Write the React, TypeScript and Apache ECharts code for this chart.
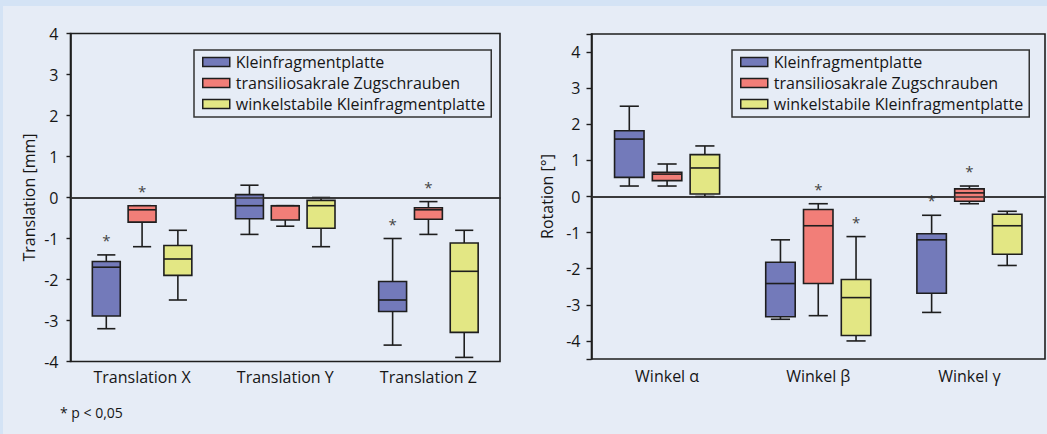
import React, { useEffect, useRef } from "react";
import * as echarts from "echarts";

const transCategories = ["Translation X", "Translation Y", "Translation Z"];
const rotCategories = ["Winkel α", "Winkel β", "Winkel γ"];
const groupNames = [
  "Kleinfragmentplatte",
  "transiliosakrale Zugschrauben",
  "winkelstabile Kleinfragmentplatte",
];
const groupColors = ["#737aba", "#f27e78", "#e3e784"];

// [min, q1, median, q3, max] per category
const transKFP = [
  [-3.2, -2.89, -1.7, -1.56, -1.4],
  [-0.9, -0.52, -0.2, 0.07, 0.3],
  [-3.6, -2.78, -2.5, -2.05, -1.0],
];
const transTZS = [
  [-1.2, -0.6, -0.3, -0.2, -0.2],
  [-0.7, -0.55, -0.2, -0.2, -0.2],
  [-0.9, -0.53, -0.3, -0.25, -0.1],
];
const transWKP = [
  [-2.5, -1.9, -1.5, -1.17, -0.8],
  [-1.2, -0.75, -0.2, -0.07, 0.0],
  [-3.9, -3.29, -1.8, -1.11, -0.8],
];
const rotKFP = [
  [0.29, 0.53, 1.59, 1.82, 2.5],
  [-3.4, -3.33, -2.41, -1.82, -1.2],
  [-3.21, -2.68, -1.2, -1.03, -0.52],
];
const rotTZS = [
  [0.29, 0.44, 0.62, 0.67, 0.9],
  [-3.3, -2.41, -0.81, -0.36, -0.2],
  [-0.2, -0.13, 0.1, 0.21, 0.29],
];
const rotWKP = [
  [0.0, 0.07, 0.79, 1.16, 1.4],
  [-4.0, -3.85, -2.8, -2.3, -1.11],
  [-1.91, -1.6, -0.81, -0.49, -0.41],
];
// significance markers (p < 0.05)
const transSigKFP = [1, 0, 1];
const transSigTZS = [1, 0, 1];
const transSigWKP = [0, 0, 0];
const rotSigKFP = [0, 0, 1];
const rotSigTZS = [0, 1, 1];
const rotSigWKP = [0, 1, 0];

const transTicks = [-4, -3, -2, -1, 0, 1, 2, 3, 4];
const rotTicks = [-4, -3, -2, -1, 0, 1, 2, 3, 4];

const FONT = "Open Sans";
const LINE = "#1e1e1e";
const TEXT = "#161616";

function buildData(stats: number[][], sig: number[]) {
  return stats.map((s, i) => [i, ...s, sig[i]]);
}

function makeRender(slot: number, color: string) {
  return (params: any, api: any) => {
    const cat = api.value(0);
    const lo = api.value(1);
    const q1 = api.value(2);
    const med = api.value(3);
    const q3 = api.value(4);
    const hi = api.value(5);
    const sig = api.value(6);
    const band = api.size([1, 0])[0];
    const cx = api.coord([cat, 0])[0] + (slot - 1) * 0.25 * band;
    const w = band * 0.195;
    const cap = w * 0.65;
    const y = (v: number) => api.coord([cat, v])[1];
    const ls = { stroke: LINE, lineWidth: 1.6 };
    const children: any[] = [
      { type: "line", shape: { x1: cx, y1: y(hi), x2: cx, y2: y(q3) }, style: ls },
      { type: "line", shape: { x1: cx, y1: y(q1), x2: cx, y2: y(lo) }, style: ls },
      { type: "line", shape: { x1: cx - cap / 2, y1: y(hi), x2: cx + cap / 2, y2: y(hi) }, style: ls },
      { type: "line", shape: { x1: cx - cap / 2, y1: y(lo), x2: cx + cap / 2, y2: y(lo) }, style: ls },
      {
        type: "rect",
        shape: { x: cx - w / 2, y: y(q3), width: w, height: y(q1) - y(q3) },
        style: { fill: color, stroke: LINE, lineWidth: 1.6 },
      },
      { type: "line", shape: { x1: cx - w / 2, y1: y(med), x2: cx + w / 2, y2: y(med) }, style: ls },
    ];
    if (sig) {
      children.push({
        type: "text",
        x: cx,
        y: y(hi) - 15,
        style: {
          text: "*",
          fill: "#444",
          font: `15px "${FONT}"`,
          align: "center",
          verticalAlign: "middle",
        },
      });
    }
    return { type: "group", children };
  };
}

function series(gridIdx: number, slot: number, stats: number[][], sig: number[]) {
  const s: any = {
    type: "custom",
    name: groupNames[slot],
    xAxisIndex: gridIdx,
    yAxisIndex: gridIdx,
    renderItem: makeRender(slot, groupColors[slot]),
    itemStyle: { color: groupColors[slot], borderColor: LINE, borderWidth: 1.5 },
    encode: { x: 0, y: [1, 2, 3, 4, 5] },
    data: buildData(stats, sig),
    clip: false,
  };
  if (slot === 0) {
    s.markLine = {
      silent: true,
      symbol: "none",
      label: { show: false },
      lineStyle: { color: "#333", width: 1.6, type: "solid" },
      data: [{ yAxis: 0 }],
    };
  }
  return s;
}

function xAxis(gridIdx: number, cats: string[], margin: number) {
  return {
    type: "category",
    gridIndex: gridIdx,
    data: cats,
    axisLine: { lineStyle: { color: LINE, width: 1.6 } },
    axisTick: { show: false },
    axisLabel: { color: TEXT, fontFamily: FONT, fontSize: 16, margin },
  };
}

function yAxis(gridIdx: number, name: string, min: number, max: number, ticks: number[], nameGap: number, margin: number, tickLen: number) {
  return {
    type: "value",
    gridIndex: gridIdx,
    min,
    max,
    splitNumber: ticks.length - 1,
    name,
    nameLocation: "middle",
    nameGap,
    nameTextStyle: { color: TEXT, fontFamily: FONT, fontSize: 16 },
    axisLine: { show: true, lineStyle: { color: LINE, width: 1.6 } },
    axisTick: { show: true, length: tickLen, lineStyle: { color: LINE, width: 1.4 } },
    splitLine: { show: false },
    axisLabel: {
      color: TEXT,
      fontFamily: FONT,
      fontSize: 16,
      margin,
      formatter: (v: number) => (ticks.includes(v) ? String(v) : ""),
    },
  };
}

function legend(left: number) {
  return {
    orient: "vertical",
    left,
    top: 50,
    data: groupNames,
    icon: "rect",
    itemWidth: 27,
    itemHeight: 9,
    itemGap: 5,
    padding: [4, 6, 5, 8],
    borderColor: "#333",
    borderWidth: 1.5,
    selectedMode: false,
    itemStyle: { borderColor: LINE, borderWidth: 1.5 },
    textStyle: { color: TEXT, fontFamily: FONT, fontSize: 16, lineHeight: 16, padding: [0, 0, 0, 1] },
  };
}

export default function App() {
  const ref = useRef<HTMLDivElement>(null);
  useEffect(() => {
    if (!ref.current) return;
    const chart = echarts.init(ref.current, null, { renderer: "svg" });
    chart.setOption({
      animation: false,
      backgroundColor: "#d4e3f5",
      graphic: [
        { type: "rect", z: -10, shape: { x: 3, y: 6, width: 1044, height: 428 }, style: { fill: "#e6ecf6" } },
        {
          type: "text",
          left: 60,
          top: 405,
          style: { text: "* p < 0,05", fill: TEXT, font: `14px "${FONT}"` },
        },
      ],
      grid: [
        { left: 70.5, top: 33.5, width: 429.5, height: 328, show: true, borderColor: LINE, borderWidth: 1.6, backgroundColor: "transparent" },
        { left: 591.5, top: 34, width: 453.5, height: 325, show: true, borderColor: LINE, borderWidth: 1.6, backgroundColor: "transparent" },
      ],
      legend: [legend(194), legend(732)],
      xAxis: [xAxis(0, transCategories, 7), xAxis(1, rotCategories, 9)],
      yAxis: [
        yAxis(0, "Translation [mm]", -4, 4, transTicks, 34, 12, 4),
        yAxis(1, "Rotation [°]", -4.5, 4.5, rotTicks, 37, 11, 5),
      ],
      series: [
        series(0, 0, transKFP, transSigKFP),
        series(0, 1, transTZS, transSigTZS),
        series(0, 2, transWKP, transSigWKP),
        series(1, 0, rotKFP, rotSigKFP),
        series(1, 1, rotTZS, rotSigTZS),
        series(1, 2, rotWKP, rotSigWKP),
      ],
    });
    return () => chart.dispose();
  }, []);
  return (
    <div
      ref={ref}
      style={{ position: "fixed", left: 0, top: 0, width: 1047, height: 434 }}
    />
  );
}
